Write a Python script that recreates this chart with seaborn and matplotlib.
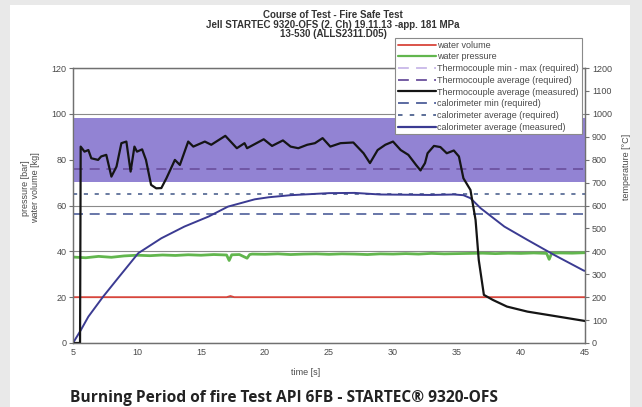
import numpy as np
import pandas as pd
import seaborn as sns
import matplotlib.pyplot as plt
from matplotlib.lines import Line2D
from matplotlib.patches import Rectangle

# ---- data ----
# thermocouple average (measured), degC
tc_time = [5.0, 5.55, 5.6, 5.9, 6.2, 6.43, 6.96, 7.2, 7.6, 8.0, 8.4, 8.78, 9.17, 9.5,
           9.8, 10.0, 10.4, 10.7, 11.1, 11.5, 11.9, 12.3, 12.96, 13.35, 14.0, 14.4,
           15.3, 15.8, 16.9, 17.8, 18.4, 18.6, 19.9, 20.55, 21.4, 22.0, 22.6, 23.3,
           23.9, 24.5, 25.1, 25.9, 26.9, 27.7, 28.2, 28.8, 29.4, 30.0, 30.6, 31.2,
           31.8, 32.15, 32.5, 32.7, 33.2, 33.7, 34.2, 34.75, 35.15, 35.5, 36.05,
           36.45, 36.7, 37.1, 37.8, 38.9, 40.5, 42.6, 44.9, 45.0]
tc_temp = [0, 0, 857, 835, 842, 806, 799, 814, 821, 726, 770, 872, 879, 748,
           857, 835, 845, 799, 690, 675, 676, 719, 799, 777, 879, 857,
           879, 865, 904, 850, 872, 850, 889, 860, 884, 857, 850, 865,
           872, 894, 857, 872, 875, 828, 785, 842, 865, 879, 842, 821,
           777, 753, 785, 828, 860, 855, 828, 840, 814, 719, 668,
           537, 362, 210, 188, 159, 137, 118, 97, 96]

# calorimeter average (measured), degC
cal_time = [5.0, 5.6, 6.2, 7.35, 8.5, 10.1, 11.9, 13.7, 15.6, 17.1, 19.2, 20.3, 22.0,
            25.0, 27.0, 29.0, 31.0, 33.0, 34.75, 35.5, 36.05, 36.85, 38.7, 40.5,
            42.6, 44.9, 45.0]
cal_temp = [0, 55, 115, 202, 282, 392, 457, 508, 552, 595, 627, 636, 645,
            654, 655, 648, 647, 646, 648, 645, 632, 588, 508, 450,
            384, 316, 315]

# water pressure, bar
wp_time = [5, 6, 7, 8, 9, 10, 11, 12, 13, 14, 15, 16, 17, 17.2, 17.4, 18, 18.6, 18.8,
           19, 20, 21, 22, 23, 24, 25, 26, 27, 28, 29, 30, 31, 32, 33, 34, 35, 36,
           37, 38, 39, 40, 41, 42, 42.2, 42.4, 43, 44, 45]
wp_bar = [37.5, 37.2, 37.8, 37.4, 38.0, 38.3, 38.1, 38.4, 38.2, 38.5, 38.3, 38.6,
          38.4, 36.0, 38.5, 38.6, 37.0, 38.6, 38.8, 38.7, 38.9, 38.6, 38.8, 38.9,
          38.7, 38.9, 38.8, 38.6, 38.9, 38.8, 39.0, 38.8, 39.1, 38.9, 39.0, 39.1,
          39.2, 39.0, 39.2, 39.1, 39.3, 39.1, 36.5, 39.2, 39.3, 39.2, 39.4]

# water volume, kg
wv_time = [5, 17, 17.3, 17.6, 45]
wv_kg = [20, 20, 20.5, 20, 20]

# requirements, degC
tc_min, tc_max = 704, 982
tc_avg_req = 761
cal_min_req = 565
cal_avg_req = 650

legend_labels = ['water volume', 'water pressure', 'Thermocouple min - max (required)',
                 'Thermocouple average (required)', 'Thermocouple average (measured)',
                 'calorimeter min (required)', 'calorimeter average (required)',
                 'calorimeter average (measured)']

# ---- colours ----
c_red = '#d8453c'
c_green = '#62b64e'
c_band = '#9283d3'
c_tcreq = '#6a4f9c'
c_black = '#151515'
c_calmin = '#4e5f9a'
c_calavg = '#4f6390'
c_navy = '#3b3b92'
c_txt = '#4a4a4a'
c_axis = '#707070'

sns.set_style('white')
plt.rcParams['font.family'] = ['Liberation Sans', 'DejaVu Sans']

fig = plt.figure(figsize=(6.42, 4.07), dpi=100, facecolor='#e9e9e9')
fig.patches.append(Rectangle((10 / 642, 0), 620 / 642, 402 / 407, transform=fig.transFigure,
                             facecolor='white', edgecolor='none', zorder=-10))
ax = fig.add_axes([73 / 642, 1 - 343 / 407, 512 / 642, 275 / 407])
ax.set_facecolor('white')
ax2 = ax.twinx()

# water on left axis
sns.lineplot(x=wv_time, y=wv_kg, ax=ax, color=c_red, lw=1.3)
sns.lineplot(x=wp_time, y=wp_bar, ax=ax, color=c_green, lw=2.0)
ax.set_xlim(5, 45)
ax.set_ylim(0, 120)
ax.set_yticks(range(0, 121, 20))
ax.set_xticks(range(5, 46, 5))
ax.yaxis.grid(True, color='#8a8a8a', lw=0.8)
ax.set_axisbelow(True)

# temperatures on right axis
ax2.fill_between([5, 45], [tc_min, tc_min], [tc_max, tc_max], color=c_band, lw=0)
ax2.axhline(tc_avg_req, color=c_tcreq, lw=1.2, dashes=(6, 4))
ax2.axhline(cal_avg_req, color=c_calavg, lw=1.2, dashes=(2.5, 4))
ax2.axhline(cal_min_req, color=c_calmin, lw=1.2, dashes=(6, 4))
sns.lineplot(x=cal_time, y=cal_temp, ax=ax2, color=c_navy, lw=1.4)
sns.lineplot(x=tc_time, y=tc_temp, ax=ax2, color=c_black, lw=1.6)
ax2.set_ylim(0, 1200)
ax2.set_yticks(range(0, 1201, 100))

for a in (ax, ax2):
    for s in a.spines.values():
        s.set_color(c_axis)
        s.set_linewidth(0.9)
ax.tick_params(axis='y', direction='out', length=3, width=0.8, color=c_axis,
               labelsize=6.5, labelcolor=c_txt, pad=1.5)
ax.tick_params(axis='x', direction='inout', length=5, width=0.8, color=c_axis,
               labelsize=6.5, labelcolor=c_txt, pad=1)
ax2.tick_params(axis='y', direction='out', length=3, width=0.8, color=c_axis,
                labelsize=6.5, labelcolor=c_txt, pad=2)

ax.set_xlabel('time [s]', fontsize=6.5, color=c_txt)
ax.xaxis.set_label_coords((306 - 73) / 512, (343 - 368) / 275)
ax.set_ylabel('pressure [bar]\nwater volume [kg]', fontsize=6.5, color=c_txt, linespacing=1.1)
ax.yaxis.set_label_coords((40 - 73) / 512, (343 - 188) / 275)
ax2.set_ylabel('temperature [°C]', fontsize=6.5, color=c_txt)
ax2.yaxis.set_label_coords((622 - 73) / 512, (343 - 167) / 275)

# legend
handles = [Line2D([], [], color=c_red, lw=1.3),
           Line2D([], [], color=c_green, lw=1.6),
           Line2D([], [], color='#c8b8e8', lw=1.3, dashes=(6, 4)),
           Line2D([], [], color=c_tcreq, lw=1.3, dashes=(6, 4)),
           Line2D([], [], color=c_black, lw=1.6),
           Line2D([], [], color=c_calmin, lw=1.3, dashes=(6, 4)),
           Line2D([], [], color=c_calavg, lw=1.3, dashes=(2.5, 4)),
           Line2D([], [], color=c_navy, lw=1.6)]
leg = ax2.legend(handles, legend_labels, loc='upper left',
                 bbox_to_anchor=((395 - 73) / 512, (343 - 38) / 275),
                 fontsize=6.5, frameon=True, fancybox=False, framealpha=1,
                 edgecolor='#8a8a8a', labelspacing=0.3, handlelength=4.2,
                 handletextpad=0.2, borderpad=0.3, borderaxespad=0)
leg.get_frame().set_linewidth(0.8)
for t in leg.get_texts():
    t.set_color(c_txt)

# titles
title_lines = ['Course of Test - Fire Safe Test',
               'Jell STARTEC 9320-OFS (2. Ch) 19.11.13 -app. 181 MPa',
               '13-530 (ALLS2311.D05)']
for i, line in enumerate(title_lines):
    fig.text(333 / 642, 1 - (15 + 9.5 * i) / 407, line, ha='center', va='center',
             fontsize=7, fontweight='bold', color='#333333')

fig.text(70 / 642, 1 - 398 / 407, 'Burning Period of fire Test API 6FB - STARTEC® 9320-OFS',
         ha='left', va='center', fontsize=11.2, fontweight='bold', color='#222222',
         family=['Open Sans', 'DejaVu Sans'])

fig.savefig('out.png', dpi=100, facecolor=fig.get_facecolor())
